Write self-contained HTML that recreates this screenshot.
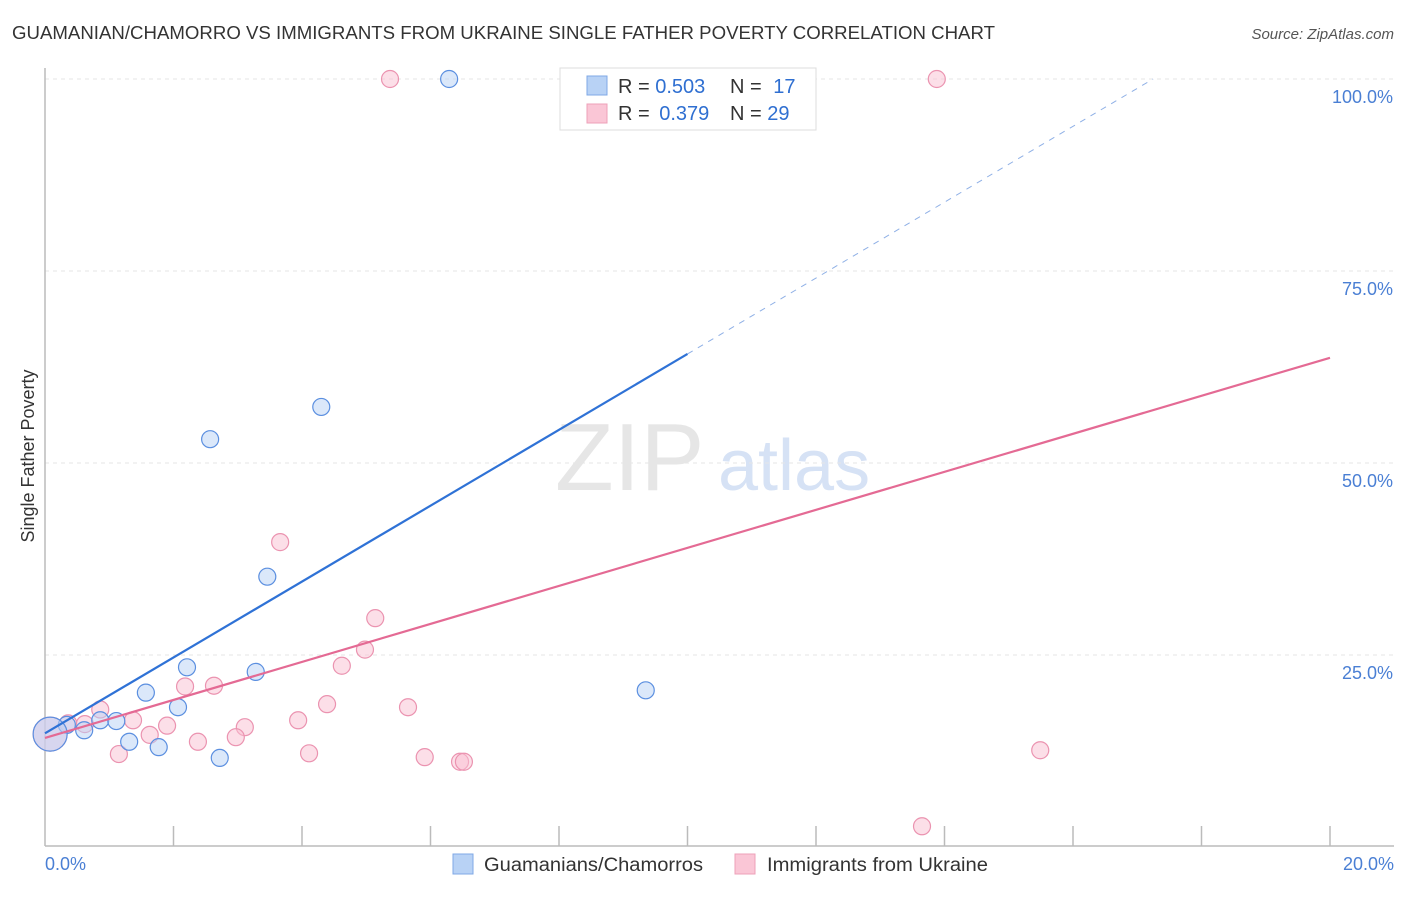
<!DOCTYPE html>
<html><head><meta charset="utf-8"><style>
body{margin:0;background:#fff;font-family:"Liberation Sans",sans-serif;}
svg text{font-family:"Liberation Sans",sans-serif;}
</style></head><body>
<svg id="c" width="1406" height="892">
<text x="12" y="39" font-size="18" fill="#333" textLength="983" lengthAdjust="spacingAndGlyphs">GUAMANIAN/CHAMORRO VS IMMIGRANTS FROM UKRAINE SINGLE FATHER POVERTY CORRELATION CHART</text>
<text x="1394" y="39" font-size="15" fill="#555" font-style="italic" text-anchor="end">Source: ZipAtlas.com</text>
<text x="555" y="490" font-size="96" fill="#e6e6e6" font-family="Liberation Serif">ZIP</text>
<text x="718" y="490" font-size="72" fill="#d6e2f5">atlas</text>
<g id="grid"></g>
<line x1="45" y1="68" x2="45" y2="846" stroke="#bbb" stroke-width="1.5"/>
<line x1="45" y1="846" x2="1394" y2="846" stroke="#bbb" stroke-width="1.5"/>
<text transform="translate(34,456) rotate(-90)" font-size="18" fill="#333" text-anchor="middle">Single Father Poverty</text>
<text x="45" y="870" font-size="18" fill="#4a7fd4">0.0%</text>
<text x="1394" y="870" font-size="18" fill="#4a7fd4" text-anchor="end">20.0%</text>
<g id="marks"></g>
<g>
<rect x="560" y="68" width="256" height="62" fill="#fff" stroke="#ddd"/>
<rect x="587" y="76" width="20" height="19" fill="#b8d2f5" stroke="#7fa8e6"/>
<rect x="587" y="104" width="20" height="19" fill="#fac6d6" stroke="#eea0b8"/>
<text x="618" y="93" font-size="20" fill="#333">R = <tspan fill="#2f6fd1">0.503</tspan></text>
<text x="730" y="93" font-size="20" fill="#333">N = <tspan fill="#2f6fd1" dx="6">17</tspan></text>
<text x="618" y="120" font-size="20" fill="#333">R = <tspan fill="#2f6fd1" dx="4">0.379</tspan></text>
<text x="730" y="120" font-size="20" fill="#333">N = <tspan fill="#2f6fd1">29</tspan></text>
</g>
<g>
<rect x="453" y="854" width="20" height="20" fill="#b8d2f5" stroke="#7fa8e6"/>
<text x="484" y="871" font-size="19" fill="#333" textLength="219" lengthAdjust="spacingAndGlyphs">Guamanians/Chamorros</text>
<rect x="735" y="854" width="20" height="20" fill="#fac6d6" stroke="#eea0b8"/>
<text x="767" y="871" font-size="19" fill="#333" textLength="221" lengthAdjust="spacingAndGlyphs">Immigrants from Ukraine</text>
</g>
</svg>
<script>
const yTicks=[25,50,75,100];
const yTickLabels=["25.0%","50.0%","75.0%","100.0%"];
const blueX=[6.29,4.30,2.57,3.46,2.21,3.28,1.57,2.07,9.35,0.86,1.11,0.61,0.34,1.31,1.77,2.72,0.08];
const blueY=[100,57.3,53.1,35.2,23.4,22.8,20.1,18.2,20.4,16.5,16.4,15.2,15.9,13.7,13.0,11.6,14.7];
const pinkX=[5.37,10.79,13.88,3.66,5.14,4.98,4.62,2.18,2.63,3.94,4.39,5.65,0.86,1.37,1.90,3.11,1.63,2.97,2.38,4.11,1.15,5.91,6.46,6.52,15.49,13.65,0.36,0.62,0.08];
const pinkY=[100,100,100,39.7,29.8,25.7,23.6,20.9,21.0,16.5,18.6,18.2,17.9,16.5,15.8,15.6,14.6,14.3,13.7,12.2,12.1,11.7,11.1,11.1,12.6,2.7,16.1,16.0,14.7];
const blueTrend=[14.8,4.94];
const pinkTrend=[14.2,2.475];
const xS=v=>45+v/20*1285;
const yS=v=>847-v*7.68;
const NS="http://www.w3.org/2000/svg";
const grid=document.getElementById('grid'),marks=document.getElementById('marks');
function mk(tag,attrs,parent){const e=document.createElementNS(NS,tag);for(const k in attrs)e.setAttribute(k,attrs[k]);parent.appendChild(e);return e;}
yTicks.forEach((t,i)=>{
 const l=mk('line',{x1:45,x2:1394,y1:yS(t),y2:yS(t),stroke:'#e6e6e6','stroke-dasharray':'4,4'},grid);
 
 
 const tx=mk('text',{x:1393,y:yS(t)+24,'font-size':18,fill:'#4a7fd4','text-anchor':'end'},grid);
 tx.textContent=yTickLabels[i];
 
 
});
for(let i=1;i<=10;i++){
 const x=45+i*128.5;
 const l=mk('line',{x1:x,x2:x,y1:826,y2:846,stroke:'#bbb','stroke-width':1.5},grid);
 
 
}
function dots(xs,ys,fill,stroke,name){
 xs.forEach((x,i)=>{
  const big=x<0.1;
  const c=mk('circle',{cx:xS(x),cy:yS(ys[i]),r:big?17:8.5,fill:fill,'fill-opacity':big?0.55:0.5,stroke:stroke,'stroke-width':1.2},marks);
  
  
 });
}
dots(pinkX,pinkY,'#f9c0d2','#eb93b0','ukraine-point');
dots(blueX,blueY,'#b8d2f5','#5b8fe0','guamanian-point');
const bEnd=10.0, bDashEnd=(100-blueTrend[0])/blueTrend[1];
let l=mk('line',{x1:xS(0),y1:yS(blueTrend[0]),x2:xS(bEnd),y2:yS(blueTrend[0]+blueTrend[1]*bEnd),stroke:'#2f72d6','stroke-width':2.2},marks);


l=mk('line',{x1:xS(bEnd),y1:yS(blueTrend[0]+blueTrend[1]*bEnd),x2:xS(bDashEnd),y2:yS(100),stroke:'#8fb0e6','stroke-width':1,'stroke-dasharray':'6,6'},marks);


l=mk('line',{x1:xS(0),y1:yS(pinkTrend[0]),x2:xS(20),y2:yS(pinkTrend[0]+pinkTrend[1]*20),stroke:'#e46a94','stroke-width':2.2},marks);


</script>
</body></html>
